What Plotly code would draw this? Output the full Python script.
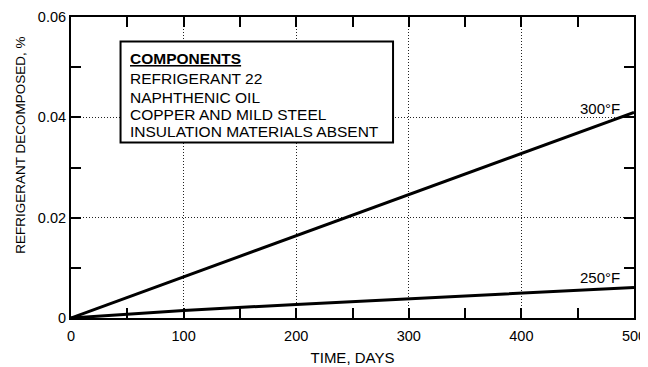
import plotly.graph_objects as go

# ---- data ----
days = [0, 100, 200, 300, 400, 500]
decomp_300F = [0.0, 0.0082, 0.0164, 0.0246, 0.0328, 0.0410]
decomp_250F = [0.0, 0.0015, 0.0027, 0.0038, 0.0050, 0.0061]

x_ticks = [0, 100, 200, 300, 400, 500]
x_tick_labels = ["0", "100", "200", "300", "400", "500"]
y_ticks = [0, 0.02, 0.04, 0.06]
y_tick_labels = ["0", "0.02", "0.04", "0.06"]

components_title = "COMPONENTS"
components = ["REFRIGERANT 22", "NAPHTHENIC OIL", "COPPER AND MILD STEEL",
              "INSULATION MATERIALS ABSENT"]
series_labels = ["300°F", "250°F"]

FONT = "Liberation Sans, Arial, Helvetica, sans-serif"

fig = go.Figure()
fig.add_trace(go.Scatter(x=days, y=decomp_300F, mode="lines",
                         line=dict(color="black", width=3), showlegend=False))
fig.add_trace(go.Scatter(x=days, y=decomp_250F, mode="lines",
                         line=dict(color="black", width=3), showlegend=False))

axis_common = dict(
    showline=True, linecolor="black", linewidth=2, mirror="allticks",
    ticks="inside", ticklen=10, tickwidth=1.5, tickcolor="black",
    showgrid=True, gridcolor="#222", griddash="1px,2px", gridwidth=1,
    zeroline=False,
    tickfont=dict(family=FONT, size=14.5, color="black"),
)

fig.update_xaxes(
    range=[0, 500], tickvals=x_ticks, ticktext=x_tick_labels,
    ticklabelstandoff=4,
    minor=dict(dtick=50, ticks="inside", ticklen=10, tickwidth=1.5,
               tickcolor="black", showgrid=False),
    title=dict(text="TIME, DAYS", font=dict(family=FONT, size=15, color="black"),
               standoff=9),
    **axis_common,
)
fig.update_yaxes(
    range=[0, 0.06], tickvals=y_ticks, ticktext=y_tick_labels,
    minor=dict(dtick=0.01, ticks="inside", ticklen=10, tickwidth=1.5,
               tickcolor="black", showgrid=False),
    **axis_common,
)

annotations = []
# y title
annotations.append(dict(
    text="REFRIGERANT DECOMPOSED, %", textangle=-90,
    xref="paper", yref="paper", x=-0.089, y=0.575,
    xanchor="center", yanchor="middle", showarrow=False,
    font=dict(family=FONT, size=13.5, color="black")))

# components box text
annotations.append(dict(
    text="<b>" + components_title + "</b>", xref="x", yref="y",
    x=50.5, y=0.0518, xanchor="left", yanchor="middle", showarrow=False,
    font=dict(family=FONT, size=15.5, color="black", lineposition="under")))
line_y = [0.04766, 0.0440, 0.04054, 0.0372]
for txt, yy in zip(components, line_y):
    annotations.append(dict(
        text=txt, xref="x", yref="y", x=50.5, y=yy,
        xanchor="left", yanchor="middle", showarrow=False,
        font=dict(family=FONT, size=15.5, color="black")))

# series labels
annotations.append(dict(text=series_labels[0], xref="x", yref="y", x=489.5, y=0.0418,
                        xanchor="right", yanchor="middle", showarrow=False,
                        font=dict(family=FONT, size=15, color="black")))
annotations.append(dict(text=series_labels[1], xref="x", yref="y", x=489.5, y=0.0080,
                        xanchor="right", yanchor="middle", showarrow=False,
                        font=dict(family=FONT, size=15, color="black")))

# page body has an 8px margin; size/margins compensate for it
fig.update_layout(
    width=640, height=359,
    margin=dict(l=63, r=14, t=9, b=49, autoexpand=False),
    plot_bgcolor="white", paper_bgcolor="white",
    font=dict(family=FONT, color="black"),
    annotations=annotations,
    shapes=[dict(type="rect", xref="x", yref="y", x0=44, x1=286,
                 y0=0.0350, y1=0.0551, line=dict(color="black", width=2),
                 fillcolor="white", layer="above")],
)

fig.write_html("out.html")
